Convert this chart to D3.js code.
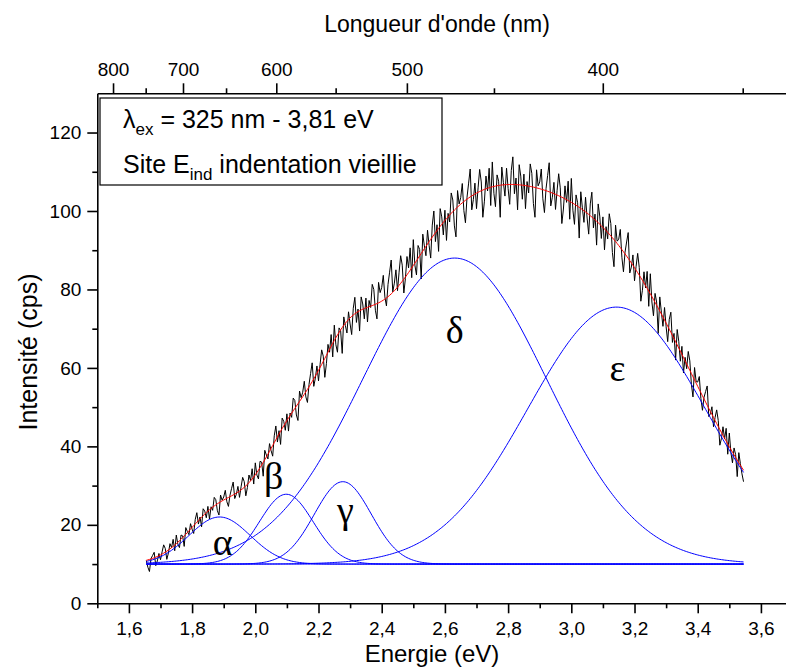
<!DOCTYPE html>
<html>
<head>
<meta charset="utf-8">
<script src="https://cdn.jsdelivr.net/npm/d3@7"></script>
<style>
  html, body { margin: 0; padding: 0; background: #fff; }
  svg { display: block; }
  text { font-family: "Liberation Sans", Arial, sans-serif; fill: #000; }
</style>
</head>
<body>
<svg id="chart" width="786" height="671"></svg>
<script>
// ---- Data ----
// Measured spectrum: energy grid start/step (eV) and intensities (cps)
const energyStart = 1.655;
const energyStep = 0.005;
const intensity = [
  10.9, 9.2, 8.1, 11.4, 12.2, 13.0, 9.6, 10.8, 12.7,
  11.1, 13.1, 14.9, 14.0, 11.2, 12.8, 15.2, 14.2, 16.3, 13.4,
  17.4, 15.0, 14.2, 17.4, 17.2, 14.5, 19.3, 18.3, 17.5, 20.3,
  18.9, 17.8, 21.4, 23.1, 20.2, 22.0, 19.5, 24.1, 23.5, 21.8,
  24.7, 21.5, 24.6, 23.7, 27.0, 26.4, 23.6, 22.5, 27.6, 26.3,
  27.1, 28.8, 25.9, 24.7, 27.6, 29.3, 30.9, 26.7, 27.8, 29.8,
  27.0, 29.7, 32.1, 31.0, 27.4, 29.5, 32.7, 31.3, 34.3, 30.4,
  35.8, 32.7, 31.7, 36.2, 36.0, 32.4, 39.0, 37.8, 36.8, 40.7,
  38.9, 37.5, 42.7, 45.2, 41.1, 44.0, 40.5, 47.2, 46.4, 44.1,
  48.3, 43.9, 48.5, 47.4, 52.3, 51.7, 48.0, 46.6, 54.1, 52.4,
  53.8, 56.6, 52.6, 51.2, 55.8, 58.6, 61.3, 55.3, 57.4, 60.5,
  56.7, 60.9, 64.6, 63.0, 57.6, 61.1, 66.0, 64.0, 68.5, 62.8,
  70.9, 65.9, 64.0, 70.2, 69.5, 63.7, 73.0, 70.8, 68.9, 74.3,
  71.2, 68.5, 75.2, 78.0, 71.6, 75.0, 69.4, 78.1, 76.3, 72.5,
  77.8, 71.7, 77.2, 75.4, 81.3, 80.0, 74.7, 72.5, 81.8, 79.2,
  80.5, 83.6, 78.1, 75.8, 81.3, 84.4, 87.5, 79.4, 81.6, 85.0,
  79.7, 84.4, 88.6, 86.2, 79.1, 82.8, 88.4, 85.5, 90.6, 83.0,
  92.7, 86.2, 83.7, 91.2, 90.2, 82.7, 94.1, 91.1, 88.6, 95.1,
  91.2, 88.0, 96.4, 100.0, 92.2, 96.5, 89.7, 100.6, 98.5, 93.9,
  100.2, 92.5, 99.4, 97.2, 104.6, 102.8, 96.2, 93.4, 105.2, 101.8,
  103.4, 107.0, 100.1, 97.0, 103.5, 107.1, 110.7, 100.3, 102.9, 107.1,
  100.6, 105.9, 110.6, 107.4, 98.4, 102.5, 108.9, 105.1, 110.9, 101.4,
  112.5, 104.5, 101.1, 109.2, 107.6, 98.4, 111.2, 107.3, 103.8, 110.9,
  105.7, 101.7, 110.3, 113.8, 104.4, 108.4, 100.3, 111.8, 108.9, 103.0,
  109.4, 100.6, 107.5, 104.6, 112.0, 109.6, 101.9, 98.4, 110.5, 106.4,
  107.4, 110.7, 103.1, 99.6, 105.7, 109.0, 112.3, 101.3, 103.5, 107.3,
  100.4, 105.2, 109.5, 105.9, 96.8, 100.5, 106.4, 102.2, 107.6, 97.9,
  108.3, 100.2, 96.6, 104.1, 102.1, 93.1, 104.9, 100.8, 97.1, 103.5,
  98.2, 94.1, 101.8, 104.8, 95.7, 99.2, 91.3, 101.8, 98.7, 93.0,
  98.5, 90.1, 96.0, 92.9, 99.3, 96.8, 89.4, 85.8, 96.4, 92.3,
  92.8, 95.3, 88.2, 84.5, 89.5, 92.1, 94.5, 84.2, 85.7, 88.8,
  82.2, 85.9, 89.2, 85.6, 77.0, 79.8, 84.5, 80.4, 84.6, 75.7,
  84.0, 76.8, 73.3, 79.0, 76.8, 68.8, 78.1, 74.2, 70.6, 75.4,
  70.5, 66.7, 72.4, 74.2, 66.5, 68.8, 62.0, 69.8, 66.8, 61.7,
  65.5, 58.7, 62.7, 59.8, 64.2, 61.8, 55.8, 52.6, 60.1, 56.5,
  56.4, 57.8, 52.2, 49.2, 52.5, 54.0, 55.4, 47.6, 48.3, 50.1,
  45.0, 47.4, 49.3, 46.6, 40.3, 42.0, 45.0, 41.9, 44.6, 38.0,
  43.4, 38.4, 35.8, 39.6, 37.9, 32.3, 38.4, 35.6, 33.0, 31.0
];

// Gaussian decomposition (fit parameters)
const fitBaseline = 10;
const peakNames = ["α", "β", "γ", "δ", "ε"];
const peakCenters = [1.887, 2.098, 2.277, 2.631, 3.143];      // eV
const peakAmplitudes = [12, 17.8, 21, 78, 65.5];              // cps above baseline
const peakWidths = [0.097, 0.085, 0.09, 0.29, 0.28];          // sigma, eV
// label anchor positions (eV, cps)
const labelEnergies = [1.897, 2.058, 2.285, 2.631, 3.146];
const labelIntensities = [12.3, 29.2, 20.5, 66.3, 56.6];

// Axis ticks
const energyMajorTicks = [1.6, 1.8, 2.0, 2.2, 2.4, 2.6, 2.8, 3.0, 3.2, 3.4, 3.6];
const energyMinorTicks = [1.5, 1.7, 1.9, 2.1, 2.3, 2.5, 2.7, 2.9, 3.1, 3.3, 3.5, 3.7];
const wavelengthMajorTicks = [800, 700, 600, 500, 400];
const wavelengthMinorTicks = [750, 650, 550, 450, 350];
const intensityMajorTicks = [0, 20, 40, 60, 80, 100, 120];
const intensityMinorTicks = [10, 30, 50, 70, 90, 110];
const hc = 1239.84; // eV·nm

// ---- Layout ----
const svg = d3.select("#chart");
const x = d3.scaleLinear().domain([1.5, 3.68]).range([97.3, 786.2]);
const y = d3.scaleLinear().domain([0, 130]).range([603.3, 93.3]);

const energies = intensity.map((_, i) => energyStart + i * energyStep);
const spectrum = energies.map((e, i) => ({ e, v: intensity[i] }));

function gauss(e, k) {
  const d = e - peakCenters[k];
  return peakAmplitudes[k] * Math.exp(-(d * d) / (2 * peakWidths[k] * peakWidths[k]));
}
const components = peakNames.map((_, k) => energies.map(e => ({ e, v: fitBaseline + gauss(e, k) })));
const fitTotal = energies.map(e => ({ e, v: fitBaseline + d3.sum(peakNames, (_, k) => gauss(e, k)) }));
const baselineLine = energies.map(e => ({ e, v: fitBaseline }));

const line = d3.line().x(d => x(d.e)).y(d => y(d.v));

// measured data
svg.append("path").datum(spectrum)
  .attr("d", line).attr("fill", "none").attr("stroke", "#000").attr("stroke-width", 1);

// baseline + components
svg.append("path").datum(baselineLine)
  .attr("d", line).attr("fill", "none").attr("stroke", "#0000ff").attr("stroke-width", 1);
components.forEach(c => {
  svg.append("path").datum(c)
    .attr("d", line).attr("fill", "none").attr("stroke", "#0000ff").attr("stroke-width", 1);
});
// total fit
svg.append("path").datum(fitTotal)
  .attr("d", line).attr("fill", "none").attr("stroke", "#ff0000").attr("stroke-width", 1);

// Greek labels
svg.selectAll("text.peak").data(peakNames).enter().append("text")
  .attr("class", "peak")
  .attr("x", (d, i) => x(labelEnergies[i]))
  .attr("y", (d, i) => y(labelIntensities[i]))
  .attr("text-anchor", "middle")
  .style("font-family", "'Liberation Serif', 'Times New Roman', serif")
  .style("font-size", "38px")
  .text(d => d);

// ---- Axes ----
const fmtE = d => d3.format(".1f")(d).replace(".", ",");
function styleAxis(g, labelSize) {
  g.selectAll("path.domain").attr("stroke", "#000").attr("stroke-width", 1.6);
  g.selectAll(".tick line").attr("stroke", "#000").attr("stroke-width", 1.6);
  g.selectAll(".tick text").style("font-family", "'Liberation Sans', Arial, sans-serif")
    .style("font-size", labelSize + "px").attr("fill", "#000");
}

// bottom
const gB = svg.append("g").attr("transform", `translate(0,${y(0)})`)
  .call(d3.axisBottom(x).tickValues(energyMajorTicks).tickFormat(fmtE).tickSize(10).tickSizeOuter(0).tickPadding(8));
styleAxis(gB, 19);
const gBm = svg.append("g").attr("transform", `translate(0,${y(0)})`)
  .call(d3.axisBottom(x).tickValues(energyMinorTicks).tickFormat("").tickSize(5).tickSizeOuter(0));
styleAxis(gBm, 19);
gBm.select("path.domain").remove();

// top (wavelength)
const gT = svg.append("g").attr("transform", `translate(0,${y(130)})`)
  .call(d3.axisTop(x).tickValues(wavelengthMajorTicks.map(l => hc / l))
    .tickFormat((d, i) => wavelengthMajorTicks[i]).tickSize(10).tickSizeOuter(0).tickPadding(7));
styleAxis(gT, 19);
const gTm = svg.append("g").attr("transform", `translate(0,${y(130)})`)
  .call(d3.axisTop(x).tickValues(wavelengthMinorTicks.map(l => hc / l)).tickFormat("").tickSize(5).tickSizeOuter(0));
styleAxis(gTm, 19);
gTm.select("path.domain").remove();

// left
const gL = svg.append("g").attr("transform", `translate(${x(1.5)},0)`)
  .call(d3.axisLeft(y).tickValues(intensityMajorTicks).tickFormat(d3.format("d")).tickSize(10).tickSizeOuter(0).tickPadding(6));
styleAxis(gL, 19);
const gLm = svg.append("g").attr("transform", `translate(${x(1.5)},0)`)
  .call(d3.axisLeft(y).tickValues(intensityMinorTicks).tickFormat("").tickSize(5).tickSizeOuter(0));
styleAxis(gLm, 19);
gLm.select("path.domain").remove();

// axis titles
svg.append("text").attr("x", 432).attr("y", 662).attr("text-anchor", "middle")
  .style("font-size", "24px").text("Energie (eV)");
svg.append("text").attr("x", 437).attr("y", 32).attr("text-anchor", "middle")
  .style("font-size", "23px").text("Longueur d'onde (nm)");
svg.append("text").attr("transform", "translate(37,352) rotate(-90)").attr("text-anchor", "middle")
  .style("font-size", "25px").text("Intensité (cps)");

// ---- Legend box ----
svg.append("rect").attr("x", 100).attr("y", 98).attr("width", 342).attr("height", 87)
  .attr("fill", "#fff").attr("stroke", "#000").attr("stroke-width", 1.2);
const t1 = svg.append("text").attr("x", 123).attr("y", 128).style("font-size", "25px");
t1.append("tspan").text("λ");
t1.append("tspan").attr("dy", 7).style("font-size", "17px").text("ex");
t1.append("tspan").attr("dy", -7).text(" = 325 nm - 3,81 eV");
const t2 = svg.append("text").attr("x", 123).attr("y", 173).style("font-size", "25px");
t2.append("tspan").text("Site E");
t2.append("tspan").attr("dy", 7).style("font-size", "17px").text("ind");
t2.append("tspan").attr("dy", -7).text(" indentation vieillie");
</script>
</body>
</html>
